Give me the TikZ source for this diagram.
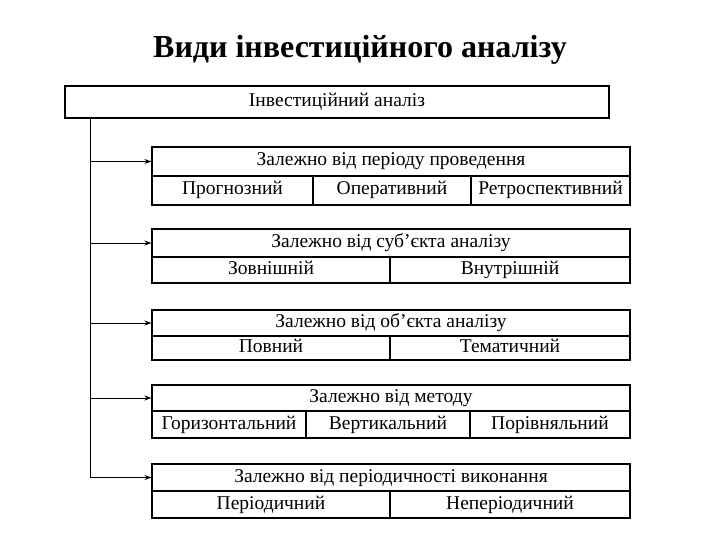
\documentclass[tikz,border=0pt]{standalone}
\usepackage{fontspec}
\setmainfont{Liberation Serif}
\usetikzlibrary{arrows.meta}
\tikzset{
  cell/.style={draw, line width=1.1pt, inner sep=0pt, text height=13pt, text depth=4pt,
    font=\fontsize{19.5}{22}\selectfont},
  conn/.style={line width=0.9pt, -{Stealth[length=7pt,width=5pt]}},
}
\begin{document}
\begin{tikzpicture}[x=1pt,y=-1pt]
\useasboundingbox (0,0) rectangle (720,540);
\node[font=\fontsize{32}{35}\selectfont\bfseries, anchor=base] (title) at (360,58) {Види інвестиційного аналізу};
\node[cell, minimum width=544pt, minimum height=32pt] (top) at (337,102) {Інвестиційний аналіз};
% group 1
\node[cell, minimum width=478pt, minimum height=29pt] (h1) at (391,161.5) {Залежно від періоду проведення};
\node[cell, minimum width=161pt, minimum height=29pt] (c11) at (232.5,190.5) {Прогнозний};
\node[cell, minimum width=158pt, minimum height=29pt] (c12) at (392,190.5) {Оперативний};
\node[cell, minimum width=159pt, minimum height=29pt] (c13) at (550.5,190.5) {Ретроспективний};
% group 2
\node[cell, minimum width=478pt, minimum height=28pt] (h2) at (391,243) {Залежно від суб’єкта аналізу};
\node[cell, minimum width=238pt, minimum height=26pt] (c21) at (271,270) {Зовнішній};
\node[cell, minimum width=240pt, minimum height=26pt] (c22) at (510,270) {Внутрішній};
% group 3
\node[cell, minimum width=478pt, minimum height=26pt] (h3) at (391,323) {Залежно від об’єкта аналізу};
\node[cell, minimum width=238pt, minimum height=24pt] (c31) at (271,348) {Повний};
\node[cell, minimum width=240pt, minimum height=24pt] (c32) at (510,348) {Тематичний};
% group 4
\node[cell, minimum width=478pt, minimum height=26pt] (h4) at (391,398) {Залежно від методу};
\node[cell, minimum width=154pt, minimum height=27pt] (c41) at (229,424.5) {Горизонтальний};
\node[cell, minimum width=164pt, minimum height=27pt] (c42) at (388,424.5) {Вертикальний};
\node[cell, minimum width=160pt, minimum height=27pt] (c43) at (550,424.5) {Порівняльний};
% group 5
\node[cell, minimum width=478pt, minimum height=27pt] (h5) at (391,477.5) {Залежно від періодичності виконання};
\node[cell, minimum width=238pt, minimum height=27pt] (c51) at (271,504.5) {Періодичний};
\node[cell, minimum width=240pt, minimum height=27pt] (c52) at (510,504.5) {Неперіодичний};
% connectors
\coordinate (v) at ([xshift=26pt]top.south west);
\draw[line width=0.9pt] (v) -- (v |- h5.west);
\draw[conn] (v |- h1.west) -- (h1.west);
\draw[conn] (v |- h2.west) -- (h2.west);
\draw[conn] (v |- h3.west) -- (h3.west);
\draw[conn] (v |- h4.west) -- (h4.west);
\draw[conn] (v |- h5.west) -- (h5.west);
\end{tikzpicture}
\end{document}
